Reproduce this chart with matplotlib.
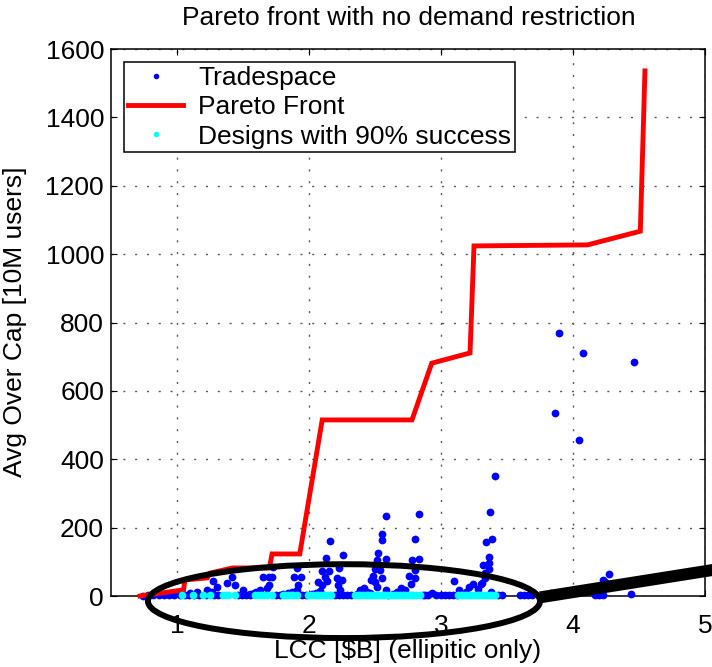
import matplotlib
matplotlib.use("Agg")
import matplotlib.pyplot as plt
from matplotlib.patches import Ellipse
from matplotlib.lines import Line2D

plt.rcParams['font.family'] = ['Liberation Sans', 'DejaVu Sans']

# ---------------- data ----------------
pareto_x = [0.72, 1.05, 1.06, 1.23, 1.25, 1.42, 1.70, 1.72, 1.93, 2.10, 2.78, 2.93, 3.22, 3.25, 4.11, 4.51, 4.545]
pareto_y = [0, 18, 47, 53, 67, 82, 82, 123, 123, 515, 515, 681, 711, 1024, 1027, 1067, 1536]

# tradespace designs (off the baseline)
trade_x = [1.10, 1.15, 1.23, 1.265, 1.30, 1.27, 1.38, 1.42, 1.44, 1.50,
           1.55, 1.58, 1.60, 1.63, 1.68, 1.70, 1.65, 1.70, 1.72, 1.73,
           1.80, 1.84, 1.87, 1.91, 1.92, 1.89, 1.94, 1.91,
           2.02, 2.05, 2.08, 2.07, 2.10, 2.12, 2.14, 2.10, 2.15, 2.13, 2.16, 2.21, 2.25, 2.22, 2.23, 2.26, 2.235,
           2.36, 2.39, 2.42, 2.44, 2.46, 2.47, 2.485, 2.50, 2.515, 2.50, 2.54, 2.515, 2.52, 2.58, 2.55, 2.55, 2.55, 2.58, 2.58,
           2.64, 2.67, 2.70, 2.73, 2.77, 2.76, 2.80, 2.80, 2.78, 2.83, 2.80, 2.83, 2.88, 2.93,
           3.10, 3.14, 3.16, 3.19, 3.21, 3.24, 3.28, 3.30, 3.31, 3.33, 3.33, 3.33, 3.32, 3.36, 3.36, 3.36, 3.34, 3.39, 3.37, 3.41, 3.38,
           3.83, 3.86, 3.894, 4.045, 4.076, 4.23, 4.24, 4.27, 4.44, 4.46]
trade_y = [9, 12, 18, 12, 26, 44, 38, 56, 32, 18,
           5, 9, 12, 18, 23, 32, 56, 56, 56, 85,
           5, 9, 12, 18, 32, 56, 56, 82,
           5, 9, 15, 41, 32, 56, 44, 73, 73, 111, 161, 53, 47, 32, 82, 120, 18,
           5, 18, 23, 12, 9, 47, 58, 41, 26, 79, 76, 105, 126, 108, 53, 164, 181, 234, 18,
           5, 12, 23, 18, 35, 58, 53, 76, 105, 108, 166, 240, 3, 9,
           44, 18, 5, 12, 26, 35, 20, 35, 38, 53, 67, 56, 91, 79, 97, 114, 158, 167, 246, 351, 12,
           9, 535, 769, 456, 711, 47, 41, 64, 6, 684]

# tradespace designs lying on the baseline
base_x = [0.74, 0.78, 0.82, 0.86, 0.90, 0.94, 0.98, 1.02, 1.06, 1.09, 1.13, 1.17, 1.22, 1.28, 1.31,
          1.46, 1.49, 1.52, 1.55, 1.75, 1.78, 1.95, 1.98, 2.20, 2.23, 2.26, 2.29, 2.32,
          2.60, 2.86, 2.90, 2.96, 3.00, 3.03, 3.06, 3.09, 3.12, 3.43, 3.46,
          3.60, 3.63, 3.66, 3.69, 4.17, 4.20, 4.23]
base_y = [1, 2, 2, 2, 3, 3, 4, 4, 3, 3, 3, 3, 3, 3, 3,
          3, 3, 3, 3, 3, 3, 3, 3, 3, 3, 3, 3, 3,
          3, 3, 3, 3, 3, 3, 3, 3, 3, 3, 3,
          2, 2, 2, 2, 2, 2, 2]

# designs with 90% success
succ_x = [1.04, 1.12, 1.20, 1.25, 1.35, 1.37, 1.39, 1.44, 1.59, 1.61, 1.64, 1.66, 1.68, 1.72,
          1.80, 1.82, 1.84, 1.86, 1.88, 1.91, 1.99, 2.01, 2.03, 2.05, 2.07, 2.09, 2.11, 2.13, 2.15, 2.17,
          2.35, 2.37, 2.39, 2.41, 2.43, 2.45, 2.47, 2.49, 2.51, 2.53, 2.55, 2.57, 2.59,
          2.61, 2.63, 2.65, 2.67, 2.69, 2.71, 2.73, 2.75, 2.77, 2.79, 2.81, 2.84,
          3.13, 3.15, 3.17, 3.19, 3.21, 3.23, 3.25, 3.27, 3.29, 3.31, 3.33, 3.35, 3.37, 3.39, 3.41]
succ_y = [3] * len(succ_x)

x_ticks = [1, 2, 3, 4, 5]
y_ticks = [0, 200, 400, 600, 800, 1000, 1200, 1400, 1600]

# annotation (ellipse around the baseline cluster and thick pointer line)
ell_center = (2.265, -15)
ell_width = 2.97
ell_height = 216
pointer_x = [3.75, 5.4]
pointer_y = [-4, 97]

# ---------------- figure ----------------
fig = plt.figure(figsize=(7.12, 6.67), dpi=100)
ax = fig.add_axes([111/712, 71/667, 594/712, 547/667])

ax.grid(True, color='0.35', linestyle=(0, (1.5, 7.0)), linewidth=1.0)
ax.set_axisbelow(True)

ms = 5.6
ax.plot(base_x, base_y, 'o', color='#0000ff', ms=ms, mec='none', clip_on=False, zorder=3)
h1, = ax.plot(trade_x, trade_y, 'o', color='#0000ff', ms=ms, mec='none', clip_on=False, zorder=3)
h2, = ax.plot(pareto_x, pareto_y, '-', color='#ff0000', lw=3.5, zorder=4, clip_on=False,
              solid_joinstyle='miter')
h3, = ax.plot(succ_x, succ_y, 'o', color='#00ffff', ms=ms, mec='none', clip_on=False, zorder=5)

ell = Ellipse(ell_center, ell_width, ell_height, fill=False, lw=4.3, ec='black',
              clip_on=False, zorder=10)
ax.add_patch(ell)
ax.plot(pointer_x, pointer_y, '-', color='black', lw=8.6, solid_capstyle='butt',
        clip_on=False, zorder=10)

ax.set_xlim(0.5, 5)
ax.set_ylim(0, 1600)
ax.set_xticks(x_ticks)
ax.set_yticks(y_ticks)
ax.tick_params(direction='in', length=4, width=0.8, labelsize=19, top=True, right=True,
               colors='black')
ax.tick_params(axis='y', pad=5)
ax.tick_params(axis='x', pad=13)
for s in ax.spines.values():
    s.set_linewidth(1.1)
    s.set_color('black')

fig.text(409/712, 1 - 18/667, 'Pareto front with no demand restriction', ha='center', va='center',
         fontsize=19)
fig.text(408/712, 1 - 651/667, 'LCC [$B] (ellipitic only)', ha='center', va='center', fontsize=19)
fig.text(15/712, 1 - 322/667, 'Avg Over Cap [10M users]', ha='center', va='center',
         rotation=90, fontsize=19)

lh1 = Line2D([], [], ls='none', marker='o', color='#0000ff', ms=4, mec='none')
lh2 = Line2D([], [], ls='-', color='#ff0000', lw=3.5)
lh3 = Line2D([], [], ls='none', marker='o', color='#00ffff', ms=4, mec='none')
leg = ax.legend([lh1, lh2, lh3], ['Tradespace', 'Pareto Front', 'Designs with 90% success'],
                loc='upper left', bbox_to_anchor=(13/594, 1 - 13/547), borderaxespad=0,
                fontsize=19, frameon=True, fancybox=False, framealpha=1, edgecolor='black',
                borderpad=0.15, labelspacing=0.2, handlelength=2.1, handletextpad=0.55)
leg.get_frame().set_linewidth(1.1)
leg.set_zorder(20)

fig.savefig('out.png', dpi=100)
